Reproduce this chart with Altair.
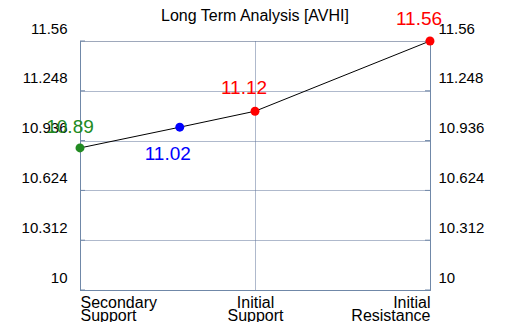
import altair as alt
import pandas as pd

title = "Long Term Analysis [AVHI]"
xpos = [0, 0.57, 1, 2]
values = [10.89, 11.02, 11.12, 11.56]
labels = ["10.89", "11.02", "11.12", "11.56"]
colors = ["#228B22", "#0000FF", "#FF0000", "#FF0000"]
dxs = [-10, -12, -11, -11]
dys = [-21, 27, -23, -22]
tick_values = [10, 10.312, 10.624, 10.936, 11.248, 11.56]
cat_pos = [0, 1, 2]

df = pd.DataFrame({"x": xpos, "y": values, "label": labels, "color": colors})
ticks_df = pd.DataFrame({"t": tick_values})

grid_color = "#5f7399"
axis_color = "#7088a8"
font = "Liberation Sans"

xscale = alt.Scale(domain=[0, 2], nice=False, zero=False)
yscale = alt.Scale(domain=[10, 11.56], nice=False, zero=False)

xaxis = alt.Axis(values=cat_pos, title=None, grid=True, gridDash=[1, 1], gridColor=grid_color,
                 domainColor=axis_color, ticks=False, labelFontSize=16, labelFont=font,
                 labelColor="black", labelPadding=17, labelLineHeight=13, labelBaseline="alphabetic",
                 labelExpr="datum.value == 0 ? ['Secondary', 'Support'] : datum.value == 1 ? ['Initial', 'Support'] : ['Initial', 'Resistance']")

yaxis_left = alt.Axis(values=tick_values, title=None, grid=True, gridDash=[1, 1], gridColor=grid_color,
                      domainColor=axis_color, ticks=False, labelFontSize=15,
                      labelFont=font, labelColor="black", labelBaseline="alphabetic", labelOffset=-8,
                      labelPadding=13, orient="left", format=".3~f")
yaxis_right = alt.Axis(values=tick_values, title=None, grid=False,
                       domainColor=axis_color, ticks=False, labelFontSize=15,
                       labelFont=font, labelColor="black", labelBaseline="alphabetic", labelOffset=-8,
                       labelPadding=8, orient="right", format=".3~f")

base = alt.Chart(df)

line = base.mark_line(color="black", strokeWidth=1).encode(
    x=alt.X("x:Q", scale=xscale, axis=xaxis),
    y=alt.Y("y:Q", scale=yscale, axis=yaxis_left),
)

tick_left = alt.Chart(ticks_df).mark_rule(color=axis_color, strokeWidth=1).encode(
    x=alt.value(0), x2=alt.value(5), y=alt.Y("t:Q", scale=yscale))
tick_right = alt.Chart(ticks_df).mark_rule(color=axis_color, strokeWidth=1).encode(
    x=alt.value(345), x2=alt.value(350), y=alt.Y("t:Q", scale=yscale))

right = base.mark_point(opacity=0).encode(
    x=alt.X("x:Q", scale=xscale),
    y=alt.Y("y:Q", scale=yscale, axis=yaxis_right),
)

pts = base.mark_circle(size=80, opacity=1).encode(
    x=alt.X("x:Q", scale=xscale),
    y=alt.Y("y:Q", scale=yscale),
    color=alt.Color("color:N", scale=None),
)

texts = []
for i in range(len(xpos)):
    texts.append(
        alt.Chart(df.iloc[[i]]).mark_text(fontSize=19, font=font, dx=dxs[i], dy=dys[i],
                                          color=colors[i]).encode(
            x=alt.X("x:Q", scale=xscale),
            y=alt.Y("y:Q", scale=yscale),
            text="label:N",
        )
    )

left_layer = alt.layer(line, tick_left, tick_right, pts, *texts)
chart = alt.layer(left_layer, right).resolve_scale(y="independent").properties(
    width=350, height=249,
    title=alt.TitleParams(title, fontSize=16, font=font, fontWeight="normal", color="black",
                          anchor="middle", frame="group", offset=0, dy=14),
    autosize=alt.AutoSizeParams(type="none"),
    padding={"left": 72, "top": 33, "right": 72, "bottom": 32},
).configure_view(stroke=None).configure(background="white")

chart.save("out.html", embed_options={"renderer": "svg", "actions": False})
